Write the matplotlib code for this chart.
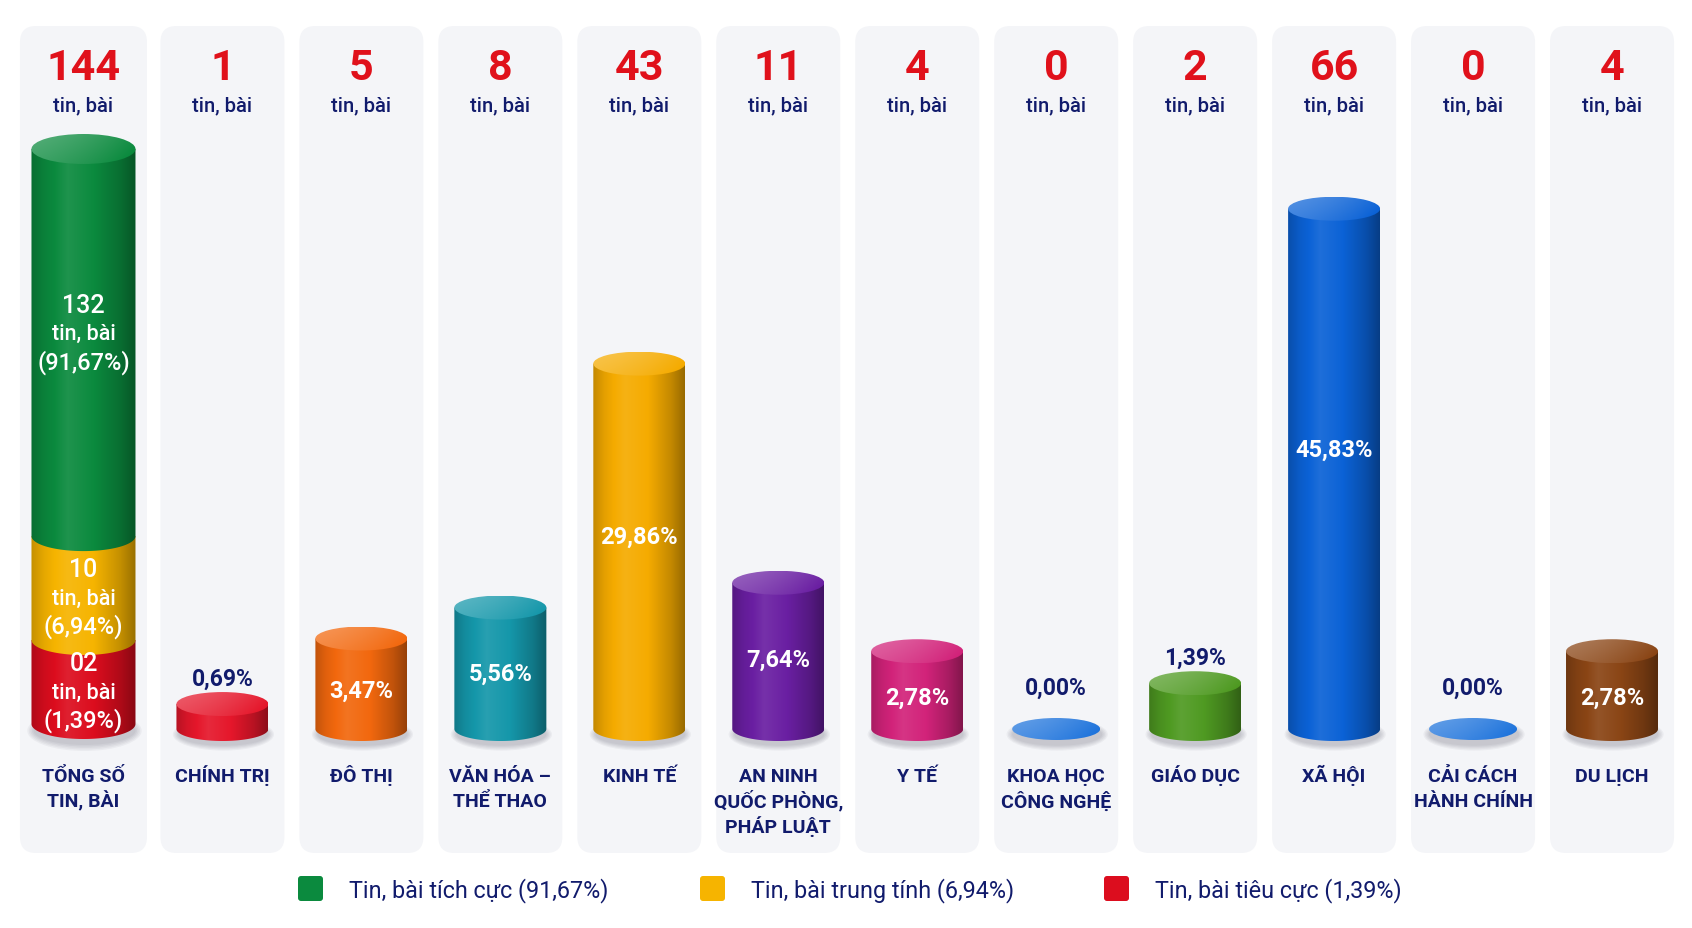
import numpy as np
import matplotlib
matplotlib.use("Agg")
import matplotlib.pyplot as plt
from matplotlib.patches import FancyBboxPatch, Ellipse, PathPatch
from matplotlib.path import Path
import matplotlib.colors as mcolors

# ---------------- data ----------------
categories = ["TỔNG SỐ\nTIN, BÀI", "CHÍNH TRỊ", "ĐÔ THỊ", "VĂN HÓA –\nTHỂ THAO", "KINH TẾ",
              "AN NINH\nQUỐC PHÒNG,\nPHÁP LUẬT", "Y TẾ", "KHOA HỌC\nCÔNG NGHỆ", "GIÁO DỤC",
              "XÃ HỘI", "CẢI CÁCH\nHÀNH CHÍNH", "DU LỊCH"]
counts = [144, 1, 5, 8, 43, 11, 4, 0, 2, 66, 0, 4]
topic_percent = [0.69, 3.47, 5.56, 29.86, 7.64, 2.78, 0.00, 1.39, 45.83, 0.00, 2.78]
topic_colors = ["#e5172b", "#f2680e", "#1597aa", "#f5ab00", "#6a1fa2", "#d2237a",
                "#1f74dc", "#4f9a22", "#0b62d6", "#1f74dc", "#8a4515"]

sent_labels = ["Tin, bài tiêu cực", "Tin, bài trung tính", "Tin, bài tích cực"]
sent_counts = [2, 10, 132]
sent_percent = [1.39, 6.94, 91.67]
sent_colors = ["#dc0d1e", "#f6b400", "#0b8a3e"]
legend_order = [2, 1, 0]

unit = "tin, bài"

NAVY = "#111b6c"
RED = "#e0111b"
FONT = ["Roboto", "DejaVu Sans"]

W, H = 1692, 929
fig = plt.figure(figsize=(W / 100, H / 100), dpi=100, facecolor="white")

XL, XR = 14.0, 1681.5
# main axes: value 0 at y=730 px (from top)
def fwd(v):
    v = np.asarray(v, dtype=float)
    return 9.7 * v + 75.7 * (1 - np.exp(-v / 2.5))
_g = np.linspace(0, 400, 40001)
_fg = fwd(_g)
def inv(y):
    return np.interp(y, _fg, _g)

ax = fig.add_axes([XL / W, (H - 730) / H, (XR - XL) / W, 703 / H])
ax.set_yscale("function", functions=(fwd, inv))
ax.set_xlim(-0.5, len(categories) - 0.5)
ax.set_ylim(0, float(inv(703)))
ax.axis("off")

# total (stacked) axes: 0 at 725 px, 100% at 150 px
P = 0.45
def f2(v):
    v = np.asarray(v, dtype=float)
    return np.sign(v) * np.abs(v) ** P
def i2(y):
    y = np.asarray(y, dtype=float)
    return np.sign(y) * np.abs(y) ** (1 / P)
axt = fig.add_axes([XL / W, (H - 725) / H, (XR - XL) / W, 575 / H])
axt.set_yscale("function", functions=(f2, i2))
axt.set_xlim(-0.5, len(categories) - 0.5)
axt.set_ylim(0, 100)
axt.axis("off")

ov = fig.add_axes([0, 0, 1, 1], zorder=5)
ov.set_xlim(0, W)
ov.set_ylim(H, 0)
ov.set_autoscale_on(False)
ov.axis("off")
ov.patch.set_alpha(0)


def px(a, x, y):
    d = a.transData.transform((x, y))
    return d[0], H - d[1]


def shade(c, s):
    c = np.array(mcolors.to_rgb(c))
    s = np.asarray(s)[..., None]
    dark = c * s
    light = c + (1 - c) * (s - 1)
    return np.clip(np.where(s <= 1, dark, light), 0, 1)


bt = np.array([0, 0.12, 0.35, 0.6, 0.85, 1.0])
bs = np.array([0.80, 0.93, 1.08, 1.0, 0.80, 0.62])


def body(cx, ytop, ybot, w, b, color, z):
    t = np.linspace(np.pi, 0, 80)
    xs = cx + (w / 2) * np.cos(t)
    ys = ybot + b * np.sin(t)
    verts = [(cx - w / 2, ytop)] + list(zip(xs, ys)) + [(cx + w / 2, ytop), (cx - w / 2, ytop)]
    codes = [Path.MOVETO] + [Path.LINETO] * (len(xs) + 1) + [Path.CLOSEPOLY]
    patch = PathPatch(Path(verts, codes), fc="none", ec="none", transform=ov.transData)
    ov.add_patch(patch)
    tt = np.linspace(0, 1, 200)
    grad = shade(color, np.interp(tt, bt, bs))[None, :, :]
    im = ov.imshow(grad, extent=(cx - w / 2, cx + w / 2, ybot + b + 1, ytop), aspect="auto",
                   interpolation="bilinear", zorder=z)
    im.set_clip_path(patch)


def cap(cx, y, w, b, color, z):
    el = Ellipse((cx, y), w, 2 * b, fc="none", ec="none", transform=ov.transData)
    ov.add_patch(el)
    xx, yy = np.meshgrid(np.linspace(0, 1, 120), np.linspace(0, 1, 40))
    s = 1.22 - 0.22 * xx + 0.10 * (1 - yy) - 0.12 * (xx - 0.35) ** 2
    grad = shade(color, s)
    im = ov.imshow(grad, extent=(cx - w / 2, cx + w / 2, y + b, y - b), aspect="auto",
                   interpolation="bilinear", zorder=z, origin="upper")
    im.set_clip_path(el)


def shadow(cx, ybot, w, b):
    for k in range(5):
        ov.add_patch(Ellipse((cx + 1, ybot + b * 0.45), w * (0.98 + 0.03 * k), 2 * b * (0.95 + 0.1 * k),
                             fc="#1a1a30", ec="none", alpha=0.045, zorder=2))


def T(x, y, s, size, color=NAVY, weight="bold", va="baseline", ha="center"):
    ov.text(x, y, s, fontsize=size, color=color, fontweight=weight, ha=ha, va=va,
            family=FONT, zorder=8)


def fmt(p):
    return f"{p:.2f}".replace(".", ",") + "%"


# ---------------- panels & headers ----------------
for i, cat in enumerate(categories):
    cx, _ = px(ax, i, 0)
    half = 63.5 if i == 0 else 62
    ov.add_patch(FancyBboxPatch((cx - half, 27), 2 * half, 827,
                                boxstyle="round,pad=0,rounding_size=16",
                                fc="#f4f5f8", ec="none", zorder=1))
    T(cx, 80, str(counts[i]), 31, color=RED)
    T(cx, 111, unit, 14.5, weight="medium")
    for k, line in enumerate(cat.split("\n")):
        T(cx, 782 + 25.5 * k, line, 14)

# ---------------- total stacked cylinder ----------------
cx0, _ = px(axt, 0, 0)
cum = np.concatenate([[0], np.cumsum(sent_percent)])
cum[-1] = 100.0
wt, bt_ = 104, 15
_, yb0 = px(axt, 0, 0)
shadow(cx0, yb0, wt, bt_)
seg_pos = []
for k in range(len(sent_percent)):
    _, ybot = px(axt, 0, cum[k])
    _, ytop = px(axt, 0, cum[k + 1])
    body(cx0, ytop, ybot, wt, bt_, sent_colors[k], 3 + k * 0.1)
    seg_pos.append((ytop, ybot))
cap(cx0, seg_pos[-1][0], wt, bt_, sent_colors[-1], 4)
for k in range(len(sent_percent)):
    ytop, ybot = seg_pos[k]
    mid = (ytop + ybot) / 2
    yc = mid - 9 if k == len(sent_percent) - 1 else mid + 10
    T(cx0, yc - 29, f"{sent_counts[k]:02d}", 18, color="white", weight="medium", va="center")
    T(cx0, yc, unit, 15.5, color="white", weight="medium", va="center")
    T(cx0, yc + 28, "(" + fmt(sent_percent[k]) + ")", 17, color="white", weight="medium", va="center")

# ---------------- topic cylinders ----------------
wc, bc = 92, 12
for j, p in enumerate(topic_percent):
    i = j + 1
    cx, ybot = px(ax, i, 0)
    _, ytop = px(ax, i, p)
    h = ybot - ytop
    col = topic_colors[j]
    shadow(cx, ybot, wc, bc)
    if h > 0.5:
        body(cx, ytop, ybot, wc, bc, col, 3)
        cap(cx, ytop, wc, bc, col, 4)
    else:
        cap(cx, ybot, wc - 4, bc - 1, col, 4)
    if h > 60:
        yc = (ytop + ybot) / 2 + bc - 0.06 * h
        T(cx, yc, fmt(p), 17, color="white", va="center")
    elif h > 0.5:
        T(cx, ytop - 26, fmt(p), 16.5, va="center")
    else:
        T(cx, ytop - 42, fmt(p), 16.5, va="center")

# ---------------- legend ----------------
leg_sq_x = [298, 700, 1104]
for n, k in enumerate(legend_order):
    x0 = leg_sq_x[n]
    ov.add_patch(FancyBboxPatch((x0, 877), 25, 25, boxstyle="round,pad=0,rounding_size=3",
                                fc=sent_colors[k], ec="none", zorder=6))
    T(x0 + 51, 897, f"{sent_labels[k]} ({fmt(sent_percent[k])})", 16.8, weight="normal", ha="left")

ov.set_xlim(0, W)
ov.set_ylim(H, 0)
fig.savefig("out.png", dpi=100, facecolor="white")
